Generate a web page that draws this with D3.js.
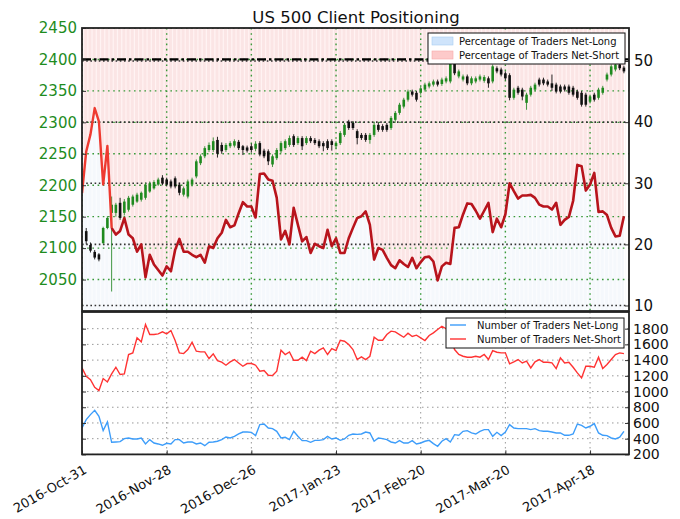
<!DOCTYPE html>
<html><head><meta charset="utf-8">
<script src="https://cdn.jsdelivr.net/npm/d3@7"></script>
<style>body{margin:0;background:#fff}svg{font-family:"DejaVu Sans",sans-serif}</style>
</head><body><svg id="c" width="680" height="519"></svg>
<script>
const dateLabels = ["2016-Oct-31","2016-Nov-28","2016-Dec-26","2017-Jan-23","2017-Feb-20","2017-Mar-20","2017-Apr-18"];
const dateTickIdx = [0,20,40,60,80,100,120];
const priceTicks = [2050,2100,2150,2200,2250,2300,2350,2400,2450];
const pctTicks = [10,20,30,40,50];
const countTicks = [200,400,600,800,1000,1200,1400,1600,1800];

const pctNetLong = [28.4,35.2,38.0,42.3,40.1,29.8,36.1,22.7,21.6,22.2,
24.3,21.6,21.0,18.8,20.0,14.6,18.3,16.7,15.8,14.9,
16.4,15.6,19.1,20.9,18.8,18.8,18.3,17.9,18.3,17.0,
19.7,19.4,21.0,21.9,24.0,22.8,23.1,25.1,26.9,26.2,
26.2,24.4,31.5,31.6,30.6,30.4,27.6,20.8,22.2,20.0,
26.0,23.2,20.5,21.2,18.6,20.1,19.7,19.4,22.4,19.7,
21.0,18.6,18.6,21.0,22.7,24.3,24.6,25.4,23.2,17.5,
19.4,19.1,17.8,16.6,16.1,17.4,16.8,16.3,17.8,16.1,
17.1,17.9,18.0,17.2,14.1,16.4,17.0,16.8,22.7,22.8,
24.9,26.7,26.6,25.5,24.2,25.5,26.8,22.0,24.2,22.8,
24.9,30.0,28.7,27.5,28.0,28.0,28.1,27.6,26.5,26.2,
26.2,25.7,26.8,23.2,24.0,24.5,27.1,33.0,32.8,28.8,
29.8,31.7,25.3,25.4,24.8,22.7,21.3,21.4,24.6];

const candleOpen  = [null,2127,2105,2094,2090,2108,2132,2156,2156,2172,2156,2161,2169,2174,2177,2180,2190,2195,2201,2212,2209,2206,2211,2201,2185,2182,2201,2214,2235,2246,2256,2256,2272,2264,2256,2262,2263,2269,2262,2260,2262,2258,2267,2255,2254,2233,2243,2254,2259,2264,2278,2267,2275,2267,2275,2272,2270,2267,2270,2270,2262,2267,2280,2301,2299,2286,2280,2280,2272,2280,2296,2294,2296,2291,2304,2315,2325,2336,2349,2347,2347,2352,2357,2360,2365,2361,2365,2365,2394,2373,2368,2373,2362,2365,2368,2366,2370,2365,2386,2384,2378,2375,2339,2355,2352,2331,2344,2352,2368,2368,2365,2362,2360,2357,2357,2357,2355,2349,2347,2344,2333,2344,2339,2347,2368,2376,2384,2392,2387];
const candleHigh  = [null,2132,2109,2097,2092,2134,2151,2182,2172,2180,2178,2183,2185,2188,2190,2204,2206,2208,2212,2216,2212,2209,2214,2204,2198,2209,2212,2241,2249,2262,2268,2276,2277,2268,2267,2270,2273,2272,2264,2263,2266,2270,2270,2258,2257,2249,2259,2270,2273,2279,2281,2278,2278,2278,2278,2275,2273,2270,2273,2273,2270,2286,2299,2304,2302,2289,2283,2283,2283,2299,2300,2297,2299,2310,2318,2331,2339,2352,2352,2350,2357,2363,2365,2368,2368,2371,2373,2400,2397,2384,2376,2376,2373,2373,2376,2375,2373,2392,2389,2387,2381,2378,2355,2358,2355,2347,2358,2363,2371,2371,2368,2376,2363,2360,2360,2360,2358,2352,2350,2347,2344,2347,2355,2358,2379,2392,2395,2395,2390];
const candleLow   = [null,2106,2093,2082,2079,2106,2130,2031,2150,2145,2152,2158,2166,2172,2174,2177,2188,2193,2199,2200,2198,2195,2195,2184,2182,2179,2198,2211,2232,2243,2253,2253,2244,2250,2253,2259,2260,2256,2248,2252,2252,2254,2246,2243,2232,2229,2240,2251,2256,2261,2261,2264,2256,2264,2267,2264,2259,2254,2256,2255,2258,2264,2277,2288,2288,2265,2272,2269,2266,2277,2285,2285,2285,2288,2301,2312,2322,2333,2341,2333,2344,2349,2354,2357,2357,2358,2362,2362,2375,2370,2365,2359,2359,2362,2365,2363,2355,2362,2378,2373,2367,2335,2336,2344,2335,2320,2341,2349,2357,2359,2357,2350,2346,2346,2349,2344,2341,2336,2325,2325,2330,2333,2336,2344,2365,2373,2381,2383,2378];
const candleClose = [null,2111,2096,2085,2082,2132,2148,2169,2169,2148,2174,2180,2182,2185,2188,2201,2203,2205,2209,2203,2201,2198,2198,2188,2195,2206,2209,2238,2246,2259,2264,2270,2250,2254,2264,2267,2270,2259,2256,2255,2256,2266,2249,2246,2238,2246,2256,2267,2270,2275,2264,2275,2262,2275,2270,2267,2262,2262,2259,2264,2267,2283,2296,2291,2291,2275,2275,2272,2280,2296,2288,2288,2288,2307,2315,2328,2336,2349,2344,2336,2354,2360,2362,2365,2360,2368,2370,2397,2378,2381,2373,2362,2370,2370,2373,2372,2362,2389,2381,2376,2370,2339,2352,2347,2341,2344,2355,2360,2360,2362,2360,2355,2349,2349,2352,2347,2344,2339,2328,2328,2341,2336,2352,2355,2376,2389,2392,2386,2381];

const countShort = [1301,1195,1152,1054,1012,1165,1122,1224,1309,1216,
1224,1471,1492,1683,1632,1853,1725,1725,1734,1759,
1734,1776,1649,1492,1483,1534,1628,1513,1504,1504,
1420,1479,1394,1373,1335,1377,1407,1364,1322,1356,
1356,1335,1258,1267,1207,1203,1258,1526,1471,1504,
1398,1398,1437,1394,1513,1483,1526,1555,1471,1547,
1521,1653,1640,1598,1534,1407,1441,1407,1449,1691,
1653,1653,1725,1768,1759,1725,1691,1742,1700,1717,
1683,1649,1713,1747,1789,1831,1800,1700,1534,1471,
1449,1437,1437,1449,1437,1471,1407,1521,1500,1492,
1492,1352,1377,1407,1364,1386,1301,1377,1407,1373,
1373,1364,1292,1428,1364,1373,1309,1237,1173,1322,
1322,1309,1437,1292,1343,1407,1471,1492,1483];
const countLong = [536,643,706,761,685,502,613,354,358,362,
401,409,396,396,409,333,388,345,333,316,
341,333,388,388,345,358,358,333,345,311,
354,358,367,388,422,409,430,460,485,485,
481,439,579,587,536,528,494,409,418,388,
494,430,375,375,354,379,379,388,430,396,
409,379,396,443,460,455,460,485,473,367,
409,401,388,358,345,375,345,345,375,333,
345,367,379,337,303,367,401,358,451,443,
494,502,473,460,494,515,515,430,481,439,
485,579,536,528,528,528,515,528,502,494,
494,485,473,473,443,443,460,587,570,536,
558,592,473,443,439,409,396,418,494];

const svg = d3.select("#c");
const L = 82, R = 629, T1 = 28, B1 = 311, T2 = 312, B2 = 454.4;
const x = d3.scaleLinear().domain([0, 129.2]).range([L, R]);
const yP = d3.scaleLinear().domain([2000, 2450]).range([B1, T1]);
const yR = d3.scaleLinear().domain([9.1, 55.4]).range([B1, T1]);
const yC = d3.scaleLinear().domain([200, 2012]).range([B2, T2]);
const idx = d3.range(pctNetLong.length);

const defs = svg.append("defs");
defs.append("clipPath").attr("id","clipTop")
  .append("rect").attr("x",L).attr("y",T1).attr("width",R-L).attr("height",B1-T1);
defs.append("clipPath").attr("id","clipBot")
  .append("rect").attr("x",L).attr("y",T2).attr("width",R-L).attr("height",B2-T2);

// ---- top panel ----
const gTop = svg.append("g").attr("clip-path","url(#clipTop)");
gTop.append("path").datum(idx)
  .attr("d", d3.area().x(i=>x(i)).y0(T1).y1(i=>yR(pctNetLong[i])))
  .attr("fill","#fbe5e5");
gTop.append("path").datum(idx)
  .attr("d", d3.area().x(i=>x(i)).y0(B1).y1(i=>yR(pctNetLong[i])))
  .attr("fill","#f5f8fc");
gTop.append("g").selectAll("line").data(idx).join("line")
  .attr("x1",i=>x(i)+1.6).attr("x2",i=>x(i)+1.6)
  .attr("y1",T1).attr("y2",i=>yR(pctNetLong[i]))
  .attr("stroke","#fff3f3").attr("stroke-width",1.2);
gTop.append("g").selectAll("line").data(idx).join("line")
  .attr("x1",i=>x(i)+1.6).attr("x2",i=>x(i)+1.6)
  .attr("y1",i=>yR(pctNetLong[i])).attr("y2",B1)
  .attr("stroke","#fbfcfe").attr("stroke-width",1.2);

const gGrid = gTop.append("g");
gGrid.selectAll(".hg").data(priceTicks).join("line").attr("class","hg")
  .attr("x1",L).attr("x2",R).attr("y1",d=>yP(d)).attr("y2",d=>yP(d))
  .attr("stroke","#3a9a3a").attr("stroke-width",1.4).attr("stroke-dasharray","1.6,3.6");
gGrid.selectAll(".hr").data(pctTicks).join("line").attr("class","hr")
  .attr("x1",L).attr("x2",R).attr("y1",d=>yR(d)).attr("y2",d=>yR(d))
  .attr("stroke","#333").attr("stroke-width",1.6).attr("stroke-dasharray","1.6,2.6");
gGrid.selectAll(".vg").data(dateTickIdx).join("line").attr("class","vg")
  .attr("x1",d=>x(d)).attr("x2",d=>x(d)).attr("y1",T1).attr("y2",B1)
  .attr("stroke","#3a9a3a").attr("stroke-width",1.4).attr("stroke-dasharray","1.6,3.6");
gTop.append("line").attr("x1",L).attr("x2",R).attr("y1",yP(2400)).attr("y2",yP(2400))
  .attr("stroke","#000").attr("stroke-width",2.2).attr("stroke-dasharray","9,3,2.5,3");

const cIdx = idx.filter(i=>candleOpen[i]!=null);
const cg = gTop.append("g");
cg.selectAll(".wick").data(cIdx).join("line").attr("class","wick")
  .attr("x1",i=>x(i)).attr("x2",i=>x(i))
  .attr("y1",i=>yP(candleHigh[i])).attr("y2",i=>yP(candleLow[i]))
  .attr("stroke",i=>candleClose[i]>=candleOpen[i]?"#2e8b2e":"#111").attr("stroke-width",0.9);
cg.selectAll(".body").data(cIdx).join("rect").attr("class","body")
  .attr("x",i=>x(i)-1.3).attr("width",2.6)
  .attr("y",i=>yP(Math.max(candleOpen[i],candleClose[i])))
  .attr("height",i=>Math.max(1,Math.abs(yP(candleOpen[i])-yP(candleClose[i]))))
  .attr("fill",i=>candleClose[i]>=candleOpen[i]?"#1f8a1f":"#111");

const ln = d3.line().x(i=>x(i)).y(i=>yR(pctNetLong[i]));
gTop.append("path").datum(idx.slice(7)).attr("d",ln)
  .attr("fill","none").attr("stroke","#b8141c").attr("stroke-width",2.6).attr("stroke-linejoin","round");
gTop.append("path").datum(idx.slice(0,8)).attr("d",ln)
  .attr("fill","none").attr("stroke","#ee3a30").attr("stroke-width",2.4).attr("stroke-linejoin","round");

const axL = svg.append("g").attr("transform",`translate(${L},0)`)
  .call(d3.axisLeft(yP).tickValues(priceTicks).tickSizeInner(-4).tickSizeOuter(0).tickPadding(5).tickFormat(d3.format("d")));
axL.select(".domain").remove();
axL.selectAll("line").attr("stroke","#333");
axL.selectAll("text").attr("fill","#1e8c1e").style("font-size","15px").attr("font-family","DejaVu Sans");
const axR = svg.append("g").attr("transform",`translate(${R},0)`)
  .call(d3.axisRight(yR).tickValues(pctTicks).tickSizeInner(-4).tickSizeOuter(0).tickPadding(5).tickFormat(d3.format("d")));
axR.select(".domain").remove();
axR.selectAll("line").attr("stroke","#333");
axR.selectAll("text").attr("fill","#111").style("font-size","15px").attr("font-family","DejaVu Sans");

svg.append("rect").attr("x",L).attr("y",T1).attr("width",R-L).attr("height",B1-T1)
  .attr("fill","none").attr("stroke","#222").attr("stroke-width",1.8);

// ---- bottom panel ----
const gBot = svg.append("g").attr("clip-path","url(#clipBot)");
gBot.selectAll(".bh").data(countTicks).join("line").attr("class","bh")
  .attr("x1",L).attr("x2",R).attr("y1",d=>yC(d)).attr("y2",d=>yC(d))
  .attr("stroke","#999").attr("stroke-width",1).attr("stroke-dasharray","1.5,3.5");
gBot.selectAll(".bv").data(dateTickIdx).join("line").attr("class","bv")
  .attr("x1",d=>x(d)).attr("x2",d=>x(d)).attr("y1",T2).attr("y2",B2)
  .attr("stroke","#999").attr("stroke-width",1).attr("stroke-dasharray","1.5,3.5");
const lnS = d3.line().x(i=>x(i)).y(i=>yC(countShort[i]));
const lnLg = d3.line().x(i=>x(i)).y(i=>yC(countLong[i]));
gBot.append("path").datum(idx).attr("d",lnS).attr("fill","none").attr("stroke","#ff3333").attr("stroke-width",1.4);
gBot.append("path").datum(idx).attr("d",lnLg).attr("fill","none").attr("stroke","#3d9dfa").attr("stroke-width",1.4);

const axB = svg.append("g").attr("transform",`translate(${R},0)`)
  .call(d3.axisRight(yC).tickValues(countTicks).tickSizeInner(-4).tickSizeOuter(0).tickPadding(4).tickFormat(d3.format("d")));
axB.select(".domain").remove();
axB.selectAll("line").attr("stroke","#333");
axB.selectAll("text").attr("fill","#111").style("font-size","14px").attr("font-family","DejaVu Sans");
const axBL = svg.append("g").attr("transform",`translate(${L},0)`)
  .call(d3.axisLeft(yC).tickValues(countTicks).tickSizeInner(-4).tickSizeOuter(0).tickFormat(""));
axBL.select(".domain").remove();
axBL.selectAll("line").attr("stroke","#333");
const axX = svg.append("g").attr("transform",`translate(0,${B2})`)
  .call(d3.axisBottom(x).tickValues(dateTickIdx).tickSizeInner(-4).tickSizeOuter(0).tickFormat(""));
axX.select(".domain").remove();
axX.selectAll("line").attr("stroke","#333");
svg.append("g").selectAll("text").data(dateTickIdx).join("text")
  .attr("transform",(d)=>`translate(${x(d)+1},${B2+10}) rotate(-30)`)
  .attr("text-anchor","end").attr("dy","0.7em")
  .style("font-size","13px").attr("fill","#111")
  .text((d,i)=>dateLabels[i]);

svg.append("rect").attr("x",L).attr("y",T2).attr("width",R-L).attr("height",B2-T2)
  .attr("fill","none").attr("stroke","#222").attr("stroke-width",1.8);

svg.append("text").attr("x",356).attr("y",23).attr("text-anchor","middle")
  .style("font-size","16.5px").attr("fill","#111").text("US 500 Client Positioning");

const lg1 = svg.append("g");
lg1.append("rect").attr("x",428).attr("y",33).attr("width",197).attr("height",31)
  .attr("fill","#fff").attr("stroke","#111").attr("stroke-width",1);
const l1 = [{t:"Percentage of Traders Net-Long",f:"#cfe4fb",s:"#a9cdf2"},{t:"Percentage of Traders Net-Short",f:"#fdcaca",s:"#f7a9a9"}];
l1.forEach((d,i)=>{
  lg1.append("rect").attr("x",432).attr("y",37+i*14).attr("width",21).attr("height",8).attr("fill",d.f).attr("stroke",d.s).attr("stroke-width",0.6);
  lg1.append("text").attr("x",459).attr("y",45+i*14).style("font-size","10px").attr("fill","#111").text(d.t);
});
const lg2 = svg.append("g");
lg2.append("rect").attr("x",446).attr("y",318).attr("width",178).attr("height",30)
  .attr("fill","#fff").attr("stroke","#111").attr("stroke-width",1);
const l2 = [{t:"Number of Traders Net-Long",c:"#3d9dfa"},{t:"Number of Traders Net-Short",c:"#ff3333"}];
l2.forEach((d,i)=>{
  lg2.append("line").attr("x1",450).attr("x2",466).attr("y1",325+i*14).attr("y2",325+i*14).attr("stroke",d.c).attr("stroke-width",1.4);
  lg2.append("text").attr("x",477).attr("y",328.5+i*14).style("font-size","10px").attr("fill","#111").text(d.t);
});
</script></body></html>
